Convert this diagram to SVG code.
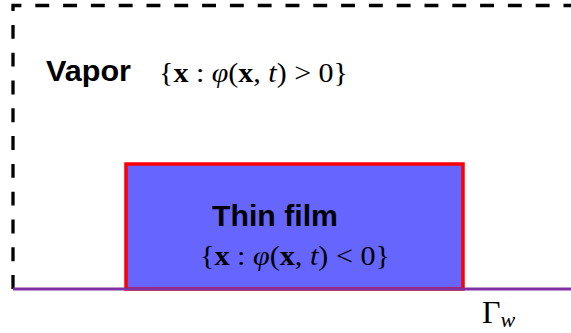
<svg xmlns="http://www.w3.org/2000/svg" width="571" height="333" viewBox="0 0 571 333">
<style>
.lbl{font-family:"Liberation Sans",Arial,sans-serif;font-weight:bold;font-size:30px;fill:#000}
.math{font-family:"Liberation Serif","Times New Roman",serif;font-size:28px;fill:#000}
.b{font-weight:bold}
.i{font-style:italic}
</style>
<rect width="571" height="333" fill="#fff"/>
<g id="vapor">
<path d="M13 289 L13 5.5 L571 5.5" fill="none" stroke="#000" stroke-width="3.3" stroke-dasharray="13.9 13.9"/>
<text class="lbl" x="46" y="81" textLength="85" lengthAdjust="spacingAndGlyphs">Vapor</text>
<text class="math" x="159" y="82" textLength="189" lengthAdjust="spacingAndGlyphs">{<tspan class="b">x</tspan> : <tspan class="i">φ</tspan>(<tspan class="b">x</tspan>, <tspan class="i">t</tspan>) &gt; 0}</text>
</g>
<g id="thin-film">
<rect x="126" y="164" width="337" height="125" fill="#6666FF" stroke="#FF0000" stroke-width="3.5"/>
<text class="lbl" x="212" y="226" textLength="126" lengthAdjust="spacingAndGlyphs">Thin film</text>
<text class="math" x="200" y="265" textLength="190" lengthAdjust="spacingAndGlyphs">{<tspan class="b">x</tspan> : <tspan class="i">φ</tspan>(<tspan class="b">x</tspan>, <tspan class="i">t</tspan>) &lt; 0}</text>
</g>
<g id="wall">
<line x1="13" y1="289" x2="571" y2="289" stroke="#8033A0" stroke-width="3"/>
<text class="math" x="482" y="323" style="font-size:32px">Γ<tspan class="i" style="font-size:22px" dy="4">w</tspan></text>
</g>
<g id="connectors"></g>
</svg>
